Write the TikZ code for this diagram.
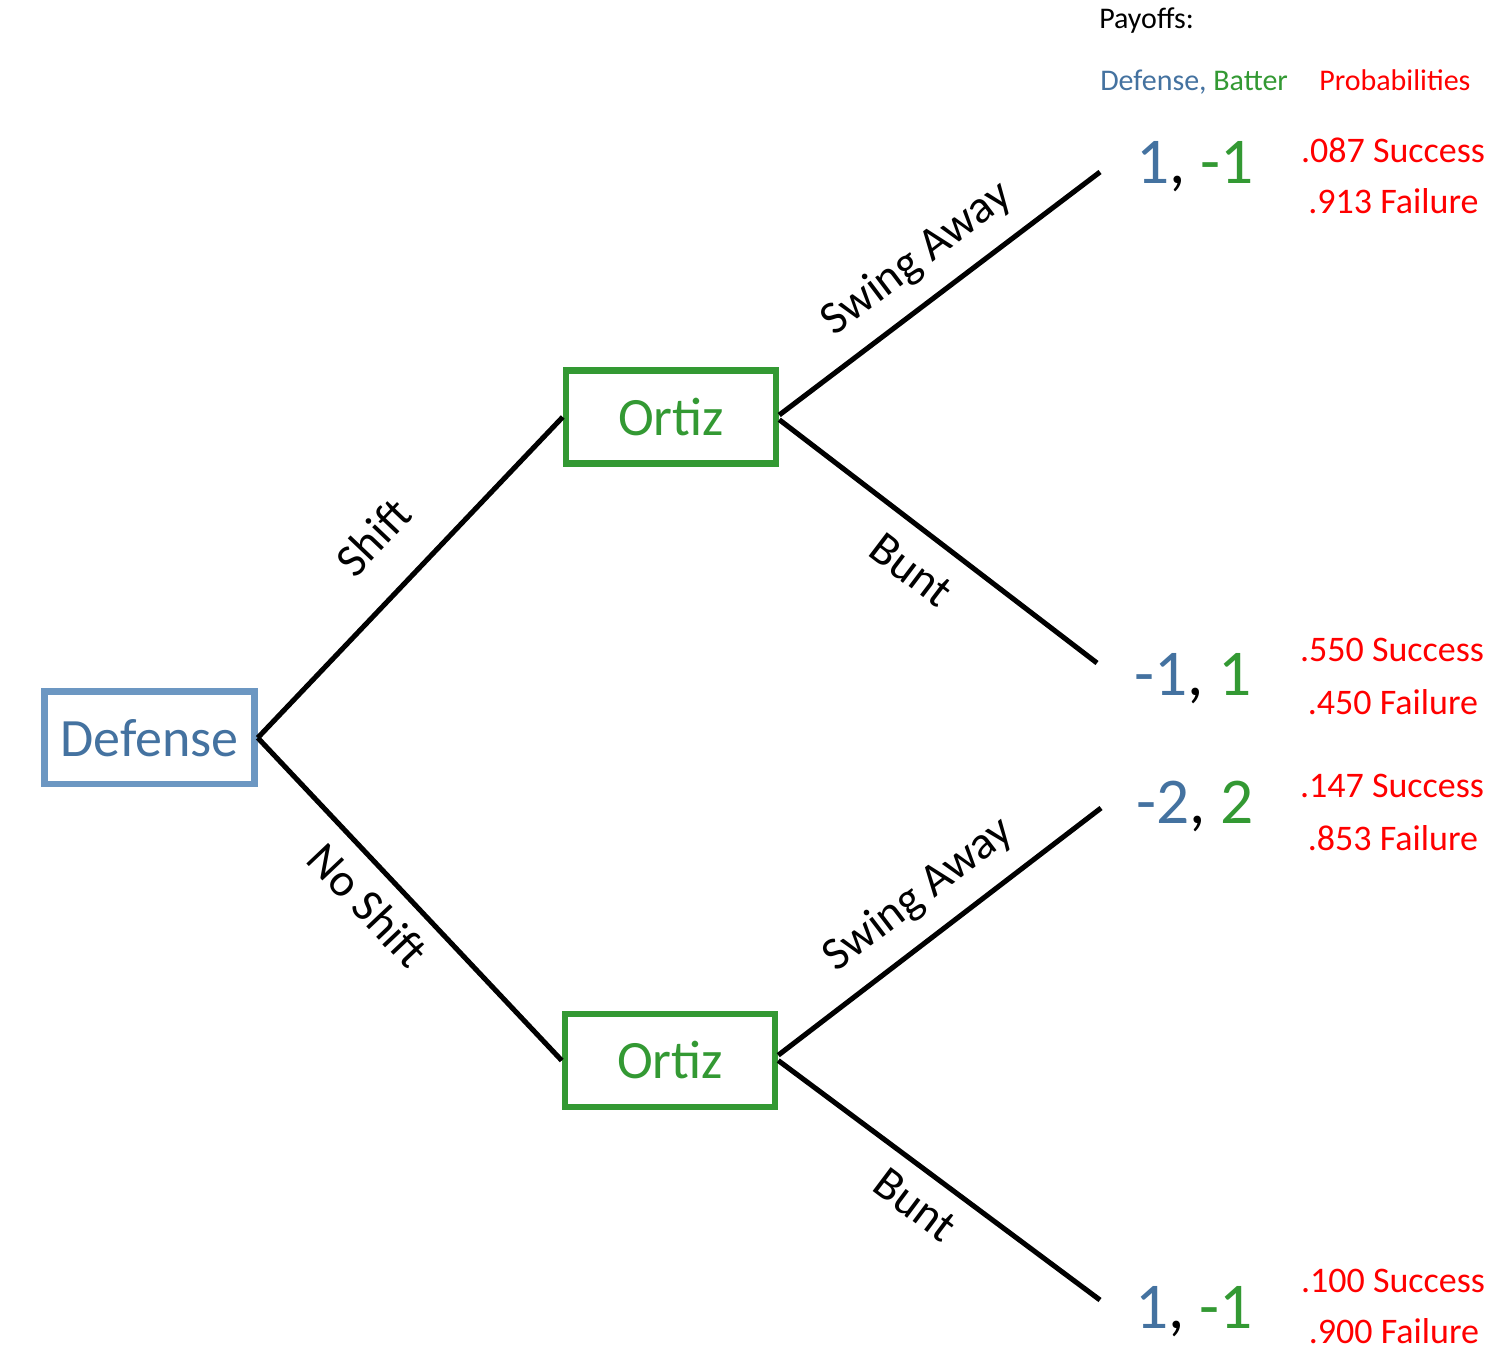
\documentclass[tikz,border=0pt]{standalone}
\usepackage{fontspec}
\setmainfont{Carlito}
\definecolor{dblue}{RGB}{68,114,160}
\definecolor{bblue}{RGB}{108,151,194}
\definecolor{dgreen}{RGB}{51,153,51}
\definecolor{pred}{RGB}{255,0,0}
\begin{document}
\begin{tikzpicture}[x=0.75pt,y=-0.75pt,
  player/.style={draw, line width=4.9pt, minimum width=157.5pt, minimum height=69.5pt, inner sep=0pt, font=\fontsize{40.5}{48}\selectfont},
  branch/.style={line width=3.8pt, black},
  lab/.style={inner sep=0pt, font=\fontsize{35}{42}\selectfont},
  payoff/.style={inner sep=0pt, anchor=base, font=\fontsize{49}{58}\selectfont},
  prob/.style={inner sep=0pt, anchor=base, text=pred, font=\fontsize{27}{32}\selectfont},
  head/.style={inner sep=0pt, anchor=base west, font=\fontsize{22.5}{27}\selectfont}]
\fill[white] (0,0) rectangle (1512,1354);
\useasboundingbox (0,0) rectangle (1512,1354);

% players
\node[player, draw=bblue, text=dblue] (def) at (149.5,737.8) {Defense};
\node[player, draw=dgreen, text=dgreen] (o1) at (671,417) {Ortiz};
\node[player, draw=dgreen, text=dgreen] (o2) at (670,1060.5) {Ortiz};

% terminal points
\coordinate (e1) at (1100,172);
\coordinate (e2) at (1097,663);
\coordinate (e3) at (1101,808);
\coordinate (e4) at (1100,1300);

% branches
\draw[branch] (def.east) -- (o1.west);
\draw[branch] (def.east) -- (o2.west);
\draw[branch] ([yshift=1.5pt]o1.east) -- (e1);
\draw[branch] ([yshift=-2pt]o1.east) -- (e2);
\draw[branch] ([yshift=4pt]o2.east) -- (e3);
\draw[branch] ([yshift=0pt]o2.east) -- (e4);

% branch labels
\node[lab, rotate=46.5] (lshift) at (373,537) {Shift};
\node[lab, rotate=-46.6] (lnoshift) at (368,905) {No Shift};
\node[lab, rotate=37] (lsw1) at (917,259) {Swing Away};
\node[lab, rotate=-37.2] (lbu1) at (911,570) {Bunt};
\node[lab, rotate=37.3] (lsw2) at (919,895) {Swing Away};
\node[lab, rotate=-36.9] (lbu2) at (915,1205) {Bunt};

% header
\node[head] (hpay) at (1099,28) {Payoffs:};
\node[head] (hdb) at (1100,90) {\textcolor{dblue}{Defense,} \textcolor{dgreen}{Batter}};
\node[head, text=pred] (hprob) at (1319,90) {Probabilities};

% payoffs
\node[payoff] (p1) at (1195,183) {\textcolor{dblue}{1}, \textcolor{dgreen}{-1}};
\node[payoff] (p2) at (1193,695) {\textcolor{dblue}{-1}, \textcolor{dgreen}{1}};
\node[payoff] (p3) at (1195,823) {\textcolor{dblue}{-2}, \textcolor{dgreen}{2}};
\node[payoff] (p4) at (1194,1328) {\textcolor{dblue}{1}, \textcolor{dgreen}{-1}};

% probabilities
\node[prob] (s1) at (1393,162) {.087 Success};
\node[prob] (f1) at (1393.5,213) {.913 Failure};
\node[prob] (s2) at (1392,661) {.550 Success};
\node[prob] (f2) at (1393,714) {.450 Failure};
\node[prob] (s3) at (1392,797) {.147 Success};
\node[prob] (f3) at (1393,850) {.853 Failure};
\node[prob] (s4) at (1393,1292) {.100 Success};
\node[prob] (f4) at (1394,1343) {.900 Failure};
\end{tikzpicture}
\end{document}
